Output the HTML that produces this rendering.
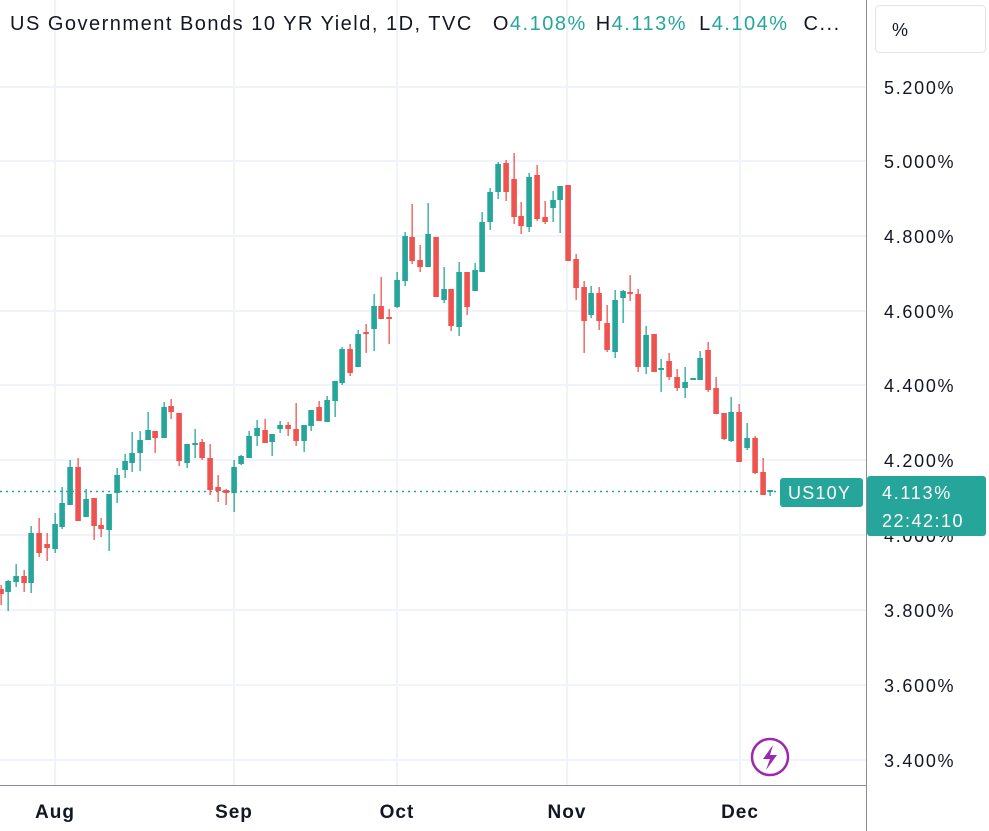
<!DOCTYPE html>
<html><head><meta charset="utf-8"><style>
html,body{margin:0;padding:0;background:#fff;}
svg{display:block;font-family:"Liberation Sans",sans-serif;}
</style></head><body>
<svg id="s" width="989" height="831" viewBox="0 0 989 831" xmlns="http://www.w3.org/2000/svg">
<rect width="989" height="831" fill="#fff"/>
<g stroke="#f0f3fa" stroke-width="2">
<line x1="0" x2="866" y1="87" y2="87"/><line x1="0" x2="866" y1="161" y2="161"/><line x1="0" x2="866" y1="236" y2="236"/><line x1="0" x2="866" y1="311" y2="311"/><line x1="0" x2="866" y1="385" y2="385"/><line x1="0" x2="866" y1="460" y2="460"/><line x1="0" x2="866" y1="535" y2="535"/><line x1="0" x2="866" y1="610" y2="610"/><line x1="0" x2="866" y1="685" y2="685"/><line x1="0" x2="866" y1="760" y2="760"/>
<line x1="55" x2="55" y1="0" y2="785"/><line x1="234" x2="234" y1="0" y2="785"/><line x1="397" x2="397" y1="0" y2="785"/><line x1="567" x2="567" y1="0" y2="785"/><line x1="740" x2="740" y1="0" y2="785"/>
</g>
<line x1="0" x2="780" y1="491.5" y2="491.5" stroke="#26a69a" stroke-width="1.5" stroke-dasharray="2,4"/>
<g id="c"></g>
<line x1="866.5" x2="866.5" y1="0" y2="831" stroke="#8a8d96" stroke-width="1"/>
<line x1="0" x2="866" y1="785.5" y2="785.5" stroke="#8a8d96" stroke-width="1"/>
<text x="10" y="30" font-size="20" letter-spacing="1.5" fill="#131722">US Government Bonds 10 YR Yield, 1D, TVC <tspan dx="13">O</tspan><tspan fill="#26a69a">4.108%</tspan><tspan dx="9">H</tspan><tspan fill="#26a69a">4.113%</tspan><tspan dx="12">L</tspan><tspan fill="#26a69a">4.104%</tspan><tspan dx="15">C...</tspan></text>
<rect x="875.5" y="5.5" width="110" height="47" rx="4" fill="#fff" stroke="#e0e3eb"/>
<text x="892" y="36" font-size="18" fill="#131722">%</text>
<g font-size="18" fill="#131722" letter-spacing="1.7">
<text x="884" y="94">5.200%</text><text x="884" y="168">5.000%</text><text x="884" y="243">4.800%</text><text x="884" y="318">4.600%</text><text x="884" y="392">4.400%</text><text x="884" y="467">4.200%</text><text x="884" y="542">4.000%</text><text x="884" y="617">3.800%</text><text x="884" y="692">3.600%</text><text x="884" y="767">3.400%</text>
</g>
<rect x="780" y="478" width="83" height="29" rx="3" fill="#26a69a"/>
<text x="788" y="499" font-size="18" letter-spacing="1.2" fill="#fff">US10Y</text>
<rect x="867" y="476" width="119" height="60" rx="3" fill="#26a69a"/>
<text x="882" y="499" font-size="18" letter-spacing="1.7" fill="#fff">4.113%</text>
<text x="882" y="527" font-size="18" letter-spacing="1.5" fill="#fff">22:42:10</text>
<circle cx="770" cy="757" r="18" fill="#fff" stroke="#9c27b0" stroke-width="2.5"/>
<path d="M773 745 L763 759 L770 759 L766 770 L777 755 L770 755 Z" fill="#9c27b0"/>
<g font-size="19" fill="#131722" font-weight="bold" text-anchor="middle" letter-spacing="1">
<text x="55" y="818">Aug</text><text x="234" y="818">Sep</text><text x="397" y="818">Oct</text><text x="567" y="818">Nov</text><text x="740" y="818">Dec</text>
</g>
</svg>
<script>
var d=[
[1,589,594,585,605,'r'],[8,581,592,580,611,'g'],[16,576,582,564,587,'g'],[24,576,583,570,592,'r'],
[31,533,583,526,593,'g'],[39,533,553,518,557,'r'],[47,544,548,533,561,'r'],[55,524,549,513,553,'g'],
[62,503,527,487,529,'g'],[70,467,505,460,505,'g'],[78,467,521,458,521,'r'],[86,499,517,489,517,'g'],
[94,498,526,498,540,'r'],[101,525,529,518,537,'r'],[109,494,530,494,551,'g'],[117,475,493,468,503,'g'],
[125,461,470,454,478,'g'],[132,453,463,432,472,'g'],[140,440,453,431,471,'g'],[148,430,440,412,440,'g'],
[155,431,438,431,453,'r'],[164,407,438,402,438,'g'],[171,406,412,399,419,'r'],[179,413,461,413,466,'r'],
[187,444,463,444,468,'g'],[195,443,445,429,458,'g'],[202,442,458,439,460,'r'],[210,458,490,444,495,'r'],
[218,487,491,475,502,'r'],[226,490,493,489,505,'r'],[234,467,493,460,512,'g'],[241,456,464,455,465,'g'],
[249,436,458,431,458,'g'],[257,428,436,420,446,'g'],[265,430,443,419,443,'r'],[272,434,442,434,456,'g'],
[280,425,429,421,433,'g'],[288,425,429,422,436,'r'],[296,429,441,403,446,'r'],[304,425,441,425,452,'g'],
[311,410,426,410,431,'g'],[319,407,421,401,421,'r'],[327,400,422,396,422,'g'],[335,381,401,381,417,'g'],
[342,349,383,347,385,'g'],[350,349,373,344,376,'r'],[358,334,367,330,367,'g'],[366,332,334,324,353,'r'],
[374,306,329,294,351,'g'],[381,306,319,277,319,'r'],[389,317,319,309,344,'r'],[397,280,307,272,308,'g'],
[405,236,281,232,286,'g'],[412,237,261,204,264,'r'],[420,260,267,245,272,'r'],[428,234,267,203,267,'g'],
[436,237,297,237,297,'r'],[444,289,300,267,303,'g'],[451,289,326,289,331,'r'],[459,272,327,262,336,'g'],
[467,272,307,272,315,'r'],[475,270,291,263,291,'g'],[482,222,272,212,272,'g'],[490,192,222,188,230,'g'],
[498,164,192,162,199,'g'],[506,163,192,160,201,'r'],[514,179,217,153,224,'r'],[521,216,226,202,234,'r'],
[529,177,227,173,232,'g'],[537,175,219,165,221,'r'],[545,217,222,201,224,'r'],[553,200,208,191,222,'g'],
[560,186,200,186,233,'g'],[568,185,261,185,261,'r'],[576,259,288,254,300,'r'],[584,287,321,281,353,'r'],
[591,293,315,286,318,'g'],[599,293,321,287,330,'r'],[607,323,350,305,352,'r'],[615,300,352,290,358,'g'],
[623,291,298,290,323,'g'],[630,292,294,275,301,'r'],[638,294,367,289,372,'r'],[646,335,367,326,374,'g'],
[654,334,372,334,372,'r'],[661,368,370,359,392,'g'],[669,361,377,353,380,'r'],[677,377,388,369,391,'r'],
[685,382,388,367,398,'g'],[693,378,380,378,380,'g'],[700,358,380,351,380,'g'],[708,350,390,342,392,'r'],
[716,388,414,377,414,'r'],[724,413,439,413,440,'r'],[731,412,441,397,442,'g'],[739,412,462,404,462,'r'],
[747,438,448,423,450,'g'],[755,438,473,436,474,'r'],[763,472,495,458,495,'r'],[770,490,492,490,496,'g']
];
var g=document.getElementById('c'),h='';
d.forEach(function(c){var col=c[5]=='g'?'#26a69a':'#ef5350';
h+='<rect x="'+(c[0]-0.5)+'" y="'+c[3]+'" width="1.3" height="'+(c[4]-c[3])+'" fill="'+col+'"/>';
var bh=Math.max(c[2]-c[1],1.5);
h+='<rect x="'+(c[0]-2.7)+'" y="'+c[1]+'" width="5.6" height="'+bh+'" fill="'+col+'"/>';});
g.innerHTML=h;
</script>
</body></html>
